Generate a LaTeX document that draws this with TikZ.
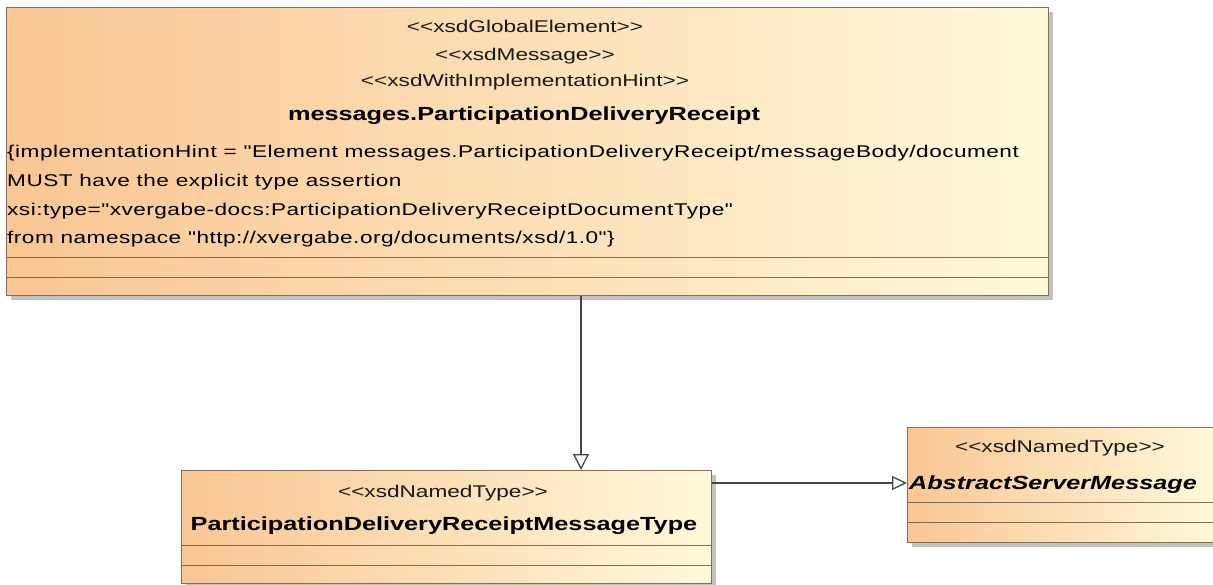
\documentclass[tikz,border=0pt]{standalone}
\usepackage{fontspec}
\newfontfamily\umlfont{Liberation Sans}[FakeStretch=1.33]
\newfontfamily\hintfont{Liberation Sans}[FakeStretch=1.33, LetterSpace=2.8]
\usetikzlibrary{arrows.meta,shadows}
\definecolor{boxL}{RGB}{250,198,148}
\definecolor{boxR}{RGB}{255,249,218}
\definecolor{edge}{RGB}{130,110,84}
\definecolor{conn}{RGB}{70,70,70}
\tikzset{
  umlbox/.style={draw=edge, line width=1.4pt, left color=boxL, right color=boxR,
    anchor=north west, inner sep=0pt,
    drop shadow={shadow xshift=4pt, shadow yshift=-4pt, fill=black!40, opacity=0.6}},
  sepline/.style={draw=edge, line width=1.1pt},
  stereo/.style={font=\umlfont\fontsize{17}{20}\selectfont, inner sep=0pt, anchor=base, text=black!90},
  title/.style={font=\umlfont\fontsize{19}{22}\selectfont\bfseries, inner sep=0pt, anchor=base},
  hint/.style={font=\hintfont\fontsize{17}{20}\selectfont, inner sep=0pt, anchor=base west},
  gen/.style={draw=conn, line width=1.3pt, -{Triangle[open, fill=white, length=16pt, width=16pt]}},
  genh/.style={draw=conn, line width=1.3pt, -{Triangle[open, fill=white, length=15pt, width=14pt]}}
}
\begin{document}
\begin{tikzpicture}[x=1pt, y=-1pt]
\useasboundingbox (0,0) rectangle (1213,584);
% boxes
\node[umlbox, minimum width=1042pt, minimum height=288pt] (top) at (6,7) {};
\node[umlbox, minimum width=530pt, minimum height=113pt] (mid) at (181,470) {};
\node[umlbox, minimum width=307pt, minimum height=115pt] (right) at (907,427) {};
% compartments
\draw[sepline] ([yshift=39pt]top.south west) -- ([yshift=39pt]top.south east);
\draw[sepline] ([yshift=19pt]top.south west) -- ([yshift=19pt]top.south east);
\draw[sepline] ([yshift=39pt]mid.south west) -- ([yshift=39pt]mid.south east);
\draw[sepline] ([yshift=19pt]mid.south west) -- ([yshift=19pt]mid.south east);
\draw[sepline] ([yshift=41pt]right.south west) -- ([yshift=41pt]right.south east);
\draw[sepline] ([yshift=21pt]right.south west) -- ([yshift=21pt]right.south east);
% top texts
\node[stereo] (s1) at (525,32.5) {<<xsdGlobalElement>>};
\node[stereo] (s2) at (525,60) {<<xsdMessage>>};
\node[stereo] (s3) at (525,86) {<<xsdWithImplementationHint>>};
\node[title] (n1) at (524,120.5) {messages.ParticipationDeliveryReceipt};
\node[hint] (h1) at (7,157) {\{implementationHint = "Element messages.ParticipationDeliveryReceipt/messageBody/document};
\node[hint] (h2) at (7,186) {MUST have the explicit type assertion};
\node[hint] (h3) at (7,215) {xsi:type="xvergabe-docs:ParticipationDeliveryReceiptDocumentType"};
\node[hint] (h4) at (7,243.5) {from namespace "http://xvergabe.org/documents/xsd/1.0"\}};
% mid texts
\node[stereo] (s4) at (443,497) {<<xsdNamedType>>};
\node[title] (n2) at (444,530.5) {ParticipationDeliveryReceiptMessageType};
% right texts
\node[stereo] (s5) at (1060,452) {<<xsdNamedType>>};
\node[title, font=\umlfont\fontsize{19}{22}\selectfont\bfseries\itshape] (n3) at (1053,489) {AbstractServerMessage};
% connectors
\coordinate (vx) at (581,0);
\coordinate (hy) at (0,483);
\draw[gen] (top.south -| vx) -- (mid.north -| vx);
\draw[genh] (mid.east |- hy) -- (right.west |- hy);
\end{tikzpicture}
\end{document}
